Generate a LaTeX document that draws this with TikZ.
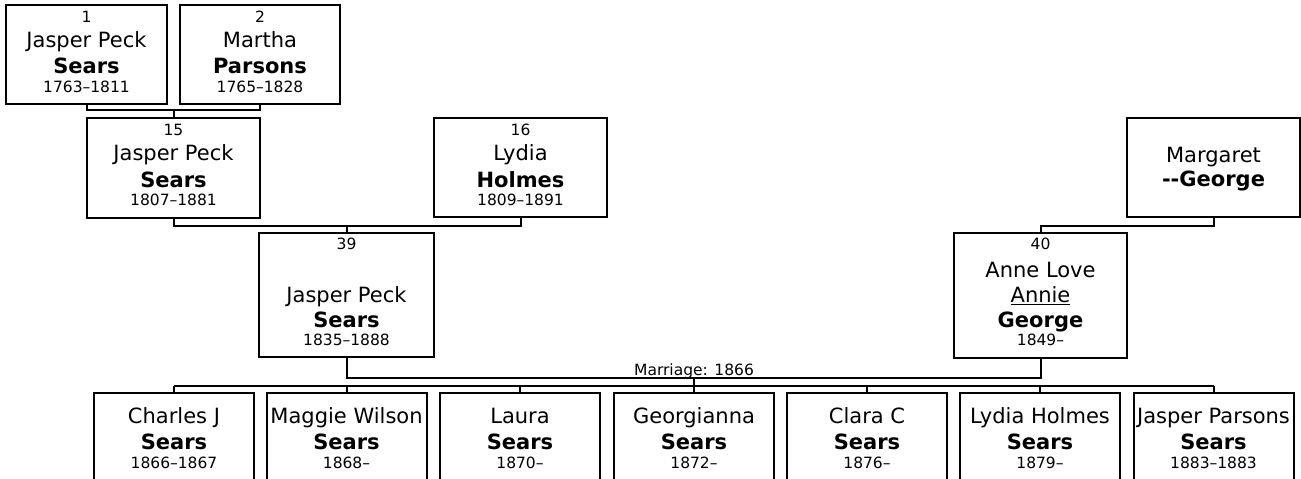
\documentclass[tikz,border=0pt]{standalone}
\usepackage{fontspec}
\setmainfont{DejaVu Sans}
\begin{document}
\begin{tikzpicture}[x=1pt,y=-1pt,
  box/.style={draw,line width=2pt,inner sep=0pt,outer sep=0pt,rectangle},
  conn/.style={line width=2pt},
  nm/.style={anchor=base,inner sep=0pt,font=\fontsize{21}{25}\selectfont},
  bn/.style={anchor=base,inner sep=0pt,font=\fontsize{21}{25}\selectfont\bfseries},
  sm/.style={anchor=base,inner sep=0pt,font=\fontsize{15.5}{19}\selectfont}]
\useasboundingbox (0,0) rectangle (1301,479);
\clip (0,0) rectangle (1301,479);
% generation 1
\node[box,minimum width=161pt,minimum height=99pt] (p1) at (86.5,54.5) {};
\node[sm] (p1a) at (86.5,22) {1};
\node[nm] (p1b) at (86.5,47) {Jasper Peck};
\node[bn] (p1c) at (86.5,73) {Sears};
\node[sm] (p1d) at (86.5,92) {1763–1811};
\node[box,minimum width=160pt,minimum height=99pt] (p2) at (260,54.5) {};
\node[sm] (p2a) at (260,22) {2};
\node[nm] (p2b) at (260,47) {Martha};
\node[bn] (p2c) at (260,73) {Parsons};
\node[sm] (p2d) at (260,92) {1765–1828};
% generation 2
\node[box,minimum width=173pt,minimum height=100pt] (p15) at (173.5,168) {};
\node[sm] (p15a) at (173.5,135) {15};
\node[nm] (p15b) at (173.5,160) {Jasper Peck};
\node[bn] (p15c) at (173.5,187) {Sears};
\node[sm] (p15d) at (173.5,205) {1807–1881};
\node[box,minimum width=173pt,minimum height=99pt] (p16) at (520.5,167.5) {};
\node[sm] (p16a) at (520.5,135) {16};
\node[nm] (p16b) at (520.5,160) {Lydia};
\node[bn] (p16c) at (520.5,187) {Holmes};
\node[sm] (p16d) at (520.5,205) {1809–1891};
\node[box,minimum width=173pt,minimum height=99pt] (pM) at (1213.5,167.5) {};
\node[nm] (pMb) at (1213.5,162) {Margaret};
\node[bn] (pMc) at (1213.5,186) {-{}-George};
% generation 3
\node[box,minimum width=175pt,minimum height=124pt] (p39) at (346.5,295) {};
\node[sm] (p39a) at (346.5,249) {39};
\node[nm] (p39b) at (346.5,302) {Jasper Peck};
\node[bn] (p39c) at (346.5,327) {Sears};
\node[sm] (p39d) at (346.5,345) {1835–1888};
\node[box,minimum width=173pt,minimum height=125pt] (p40) at (1040.5,295.5) {};
\node[sm] (p40a) at (1040.5,249) {40};
\node[nm] (p40b) at (1040.5,277) {Anne Love};
\node[nm] (p40n) at (1040.5,302) {\underline{Annie}};
\node[bn] (p40c) at (1040.5,327) {George};
\node[sm] (p40d) at (1040.5,345) {1849–};
% children
\foreach \i/\cx/\first/\dates in {1/174/Charles J/1866–1867, 2/346.5/Maggie Wilson/1868–,
   3/520/Laura/1870–, 4/694/Georgianna/1872–, 5/867/Clara C/1876–,
   6/1040/Lydia Holmes/1879–, 7/1213.5/Jasper Parsons/1883–1883}{
  \node[box,minimum width=160pt,minimum height=150pt] (c\i) at (\cx,468) {};
  \node[nm] (c\i b) at (\cx,423) {\first};
  \node[bn] (c\i c) at (\cx,449) {Sears};
  \node[sm] (c\i d) at (\cx,468) {\dates};
}
% connectors
\coordinate (m12) at (173.5,110);
\draw[conn] (p1.south) |- (m12) -| (p2.south);
\draw[conn] (m12) -- (p15.north);
\coordinate (m1516) at (346.5,226);
\draw[conn] (p15.south) |- (m1516) -| (p16.south);
\draw[conn] (m1516) -- (p39.north);
\coordinate (mM) at (1040.5,226);
\draw[conn] (pM.south) |- (mM) -- (p40.north);
\coordinate (mar) at (694,378);
\coordinate (kids) at (694,386);
\draw[conn] (p39.south) |- (mar) -| (p40.south);
\draw[conn] (mar) -- (kids);
\node[sm] (marl) at (694,375) {Marriage: 1866};
\draw[conn] (c1.north |- kids) -- (c7.north |- kids);
\foreach \i in {1,...,7}{\draw[conn] (c\i.north) -- (c\i.north |- kids);}
\end{tikzpicture}
\end{document}
